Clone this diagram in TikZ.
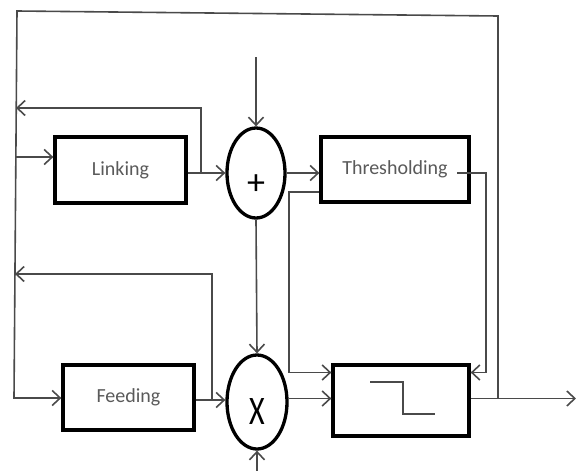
\documentclass[tikz,border=0pt]{standalone}
\usepackage{fontspec}
\setmainfont{Carlito}
\usetikzlibrary{arrows.meta,shapes.geometric,calc}
\definecolor{wire}{HTML}{4A4A4A}
\definecolor{txt}{HTML}{5A5A5A}
\begin{document}
\begin{tikzpicture}[x=1pt,y=-1pt,
  wirestyle/.style={draw=wire,line width=1.6pt},
  arr/.style={wirestyle,-{Straight Barb[length=8pt,width=15pt,line width=1.6pt]}},
  blockbox/.style={draw=black,line width=3.3pt,rectangle,inner sep=0pt,text=txt,
    font=\fontsize{20}{24}\selectfont},
  sumnode/.style={draw=black,line width=3.3pt,ellipse,minimum width=58pt,minimum height=90pt,inner sep=0pt}]
\useasboundingbox (0,0) rectangle (576,471);
\fill[white] (0,0) rectangle (576,471);
% blocks
\node[blockbox,minimum width=131pt,minimum height=66pt] (lnk) at (120.5,170) {Linking};
\node[blockbox,minimum width=148pt,minimum height=65pt] (thr) at (395,169.5) {Thresholding};
\node[blockbox,minimum width=131pt,minimum height=65pt] (fed) at (128.5,397.5) {Feeding};
\node[blockbox,minimum width=136pt,minimum height=71pt] (stp) at (401,400.5) {};
\node[sumnode,label={[yshift=-12pt,text=black,font=\fontsize{36}{38}\selectfont]center:+}] (plus) at (256,173) {};
\node[sumnode,minimum width=60pt,minimum height=94pt,label={[yshift=-10pt,text=black,font=\fontsize{30}{32}\selectfont,yscale=1.35]center:X}] (mul) at (257,402) {};
% step symbol
\draw[wirestyle] (370,382) -- (403,382) -- (403,414) -- (435,414);
% coordinates
\coordinate (topin) at (256,57);
\coordinate (botin) at (257,471);
\coordinate (tl) at (17,11);
\coordinate (tr) at (498,16);
\coordinate (outj) at (498,398.5);
\coordinate (outend) at (576,398.5);
\coordinate (bl) at (14,398);
\coordinate (lnkin) at (16,157);
\coordinate (lfb) at (201,173);
\coordinate (lfbend) at (16,108);
\coordinate (ffb) at (212,400);
\coordinate (ffbend) at (15,274);
\coordinate (throut) at (457,173);
\coordinate (thrr) at (486,173);
\coordinate (thrl) at (289,192);
% connectors
\draw[arr] (topin) -- (plus.north);
\draw[arr] (botin) -- (mul.south);
\draw[arr] (lnk.east |- plus.west) -- (plus.west);
\draw[arr] (lfb) |- (lfbend);
\draw[arr] (lnkin) -- (lnk.west |- lnkin);
\draw[arr] (plus.south) -- (mul.north);
\draw[arr] (plus.east) -- (thr.west |- plus.east);
\draw[arr] (fed.east |- ffb) -- (mul.west |- ffb);
\draw[arr] (ffb) |- (ffbend);
\draw[arr] (outj) -- (tr) -- (tl) -- (bl) -- (fed.west |- bl);
\draw[arr] (mul.east |- outj) -- (stp.west |- outj);
\draw[arr] (stp.east |- outj) -- (outend);
\draw[arr] (throut) -- (thrr) |- ($(stp.east)+(0,-28)$);
\draw[arr] (thr.west |- thrl) -- (thrl) |- ($(stp.west)+(0,-28)$);
\end{tikzpicture}
\end{document}
